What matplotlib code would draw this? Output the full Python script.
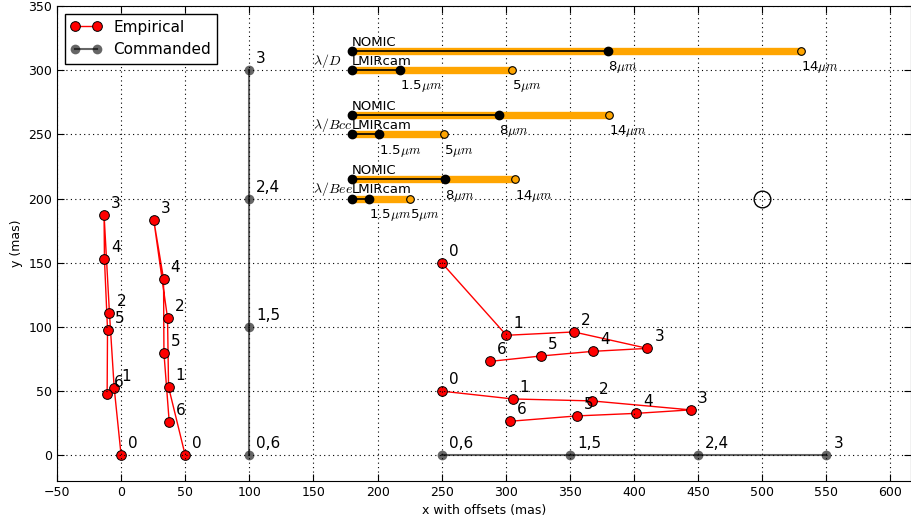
import matplotlib
matplotlib.use("Agg")
import matplotlib.pyplot as plt

plt.rc('font', size=10)
plt.rc('mathtext', fontset='cm')
plt.rc('xtick', labelsize=9)
plt.rc('ytick', labelsize=9)

# empirical scan positions (mas), one trace per offset
emp_a_x = [0, -5.4, -9.1, -13.3, -13.0, -10.6, -10.9]
emp_a_y = [0, 52.5, 110.9, 187.5, 152.9, 97.9, 48.0]
emp_b_x = [50, 37.0, 36.2, 25.5, 33.1, 33.4, 37.5]
emp_b_y = [0, 53.2, 107.0, 183.0, 137.4, 79.7, 26.2]
emp_c_x = [250, 300.5, 353.1, 410.5, 368.0, 327.7, 288.0]
emp_c_y = [150, 93.5, 96.1, 83.3, 81.0, 77.4, 73.2]
emp_d_x = [250, 305.5, 367.0, 444.1, 401.9, 355.5, 303.1]
emp_d_y = [50, 43.9, 42.4, 35.4, 32.7, 30.7, 26.5]
emp_labels = ['0', '1', '2', '3', '4', '5', '6']

# commanded positions
cmd_v_x = [100, 100, 100, 100]
cmd_v_y = [0, 100, 200, 300]
cmd_h_x = [250, 350, 450, 550]
cmd_h_y = [0, 0, 0, 0]
cmd_labels = ['0,6', '1,5', '2,4', '3']

# resolution scale bars (mas): lambda/D, lambda/Bcc, lambda/Bee
res_names = [r'$\lambda/D$', r'$\lambda/Bcc$', r'$\lambda/Bee$']
nomic_y = [315, 265, 215]
lmir_y = [300, 250, 200]
bar_x0 = 180
lmir_short = [37.5, 21.5, 13.7]    # 1.5 um
lmir_long = [125.0, 71.6, 45.5]    # 5 um
nomic_short = [200.0, 114.6, 72.9]  # 8 um
nomic_long = [350.0, 200.5, 127.5]  # 14 um

fig = plt.figure(figsize=(9.12, 5.23), dpi=100)
ax = fig.add_axes([57/912, 42/523, 854/912, 475/523])

def point_labels(xs, ys, labels):
    for x, y, s in zip(xs, ys, labels):
        ax.annotate(s, (x, y), xytext=(5, 5), textcoords='offset points',
                    fontsize=11, va='baseline')

emp_style = dict(color='r', marker='o', markersize=7, markeredgecolor='k',
                 markeredgewidth=0.7, linewidth=1)
cmd_style = dict(color='k', alpha=0.6, marker='o', markersize=7,
                 markeredgewidth=0, linewidth=1.5)

ax.plot(emp_a_x, emp_a_y, label='Empirical', **emp_style)
ax.plot(emp_b_x, emp_b_y, **emp_style)
ax.plot(emp_c_x, emp_c_y, **emp_style)
ax.plot(emp_d_x, emp_d_y, **emp_style)
for xs, ys in [(emp_a_x, emp_a_y), (emp_b_x, emp_b_y),
               (emp_c_x, emp_c_y), (emp_d_x, emp_d_y)]:
    point_labels(xs, ys, emp_labels)

ax.plot(cmd_v_x, cmd_v_y, label='Commanded', **cmd_style)
ax.plot(cmd_h_x, cmd_h_y, **cmd_style)
point_labels(cmd_v_x, cmd_v_y, cmd_labels)
point_labels(cmd_h_x, cmd_h_y, cmd_labels)

# scale bars
def scale_bar(y, short, long_, name, lo, hi):
    ax.plot([bar_x0, bar_x0 + long_], [y, y], color='orange',
            linewidth=5.3, solid_capstyle='butt', zorder=3)
    ax.plot([bar_x0, bar_x0 + short], [y, y], color='k', linewidth=1.2,
            marker='o', markersize=6, zorder=4)
    ax.plot([bar_x0 + long_], [y], 'o', color='orange', markersize=5.5,
            markeredgecolor='k', markeredgewidth=0.8, zorder=4)
    ax.text(bar_x0, y + 4, name, fontsize=9.5, va='baseline')
    ax.text(bar_x0 + short, y - 15, lo, fontsize=9.5, va='baseline')
    ax.text(bar_x0 + long_, y - 15, hi, fontsize=9.5, va='baseline')

for i in range(3):
    scale_bar(nomic_y[i], nomic_short[i], nomic_long[i], 'NOMIC',
              r'8$\mu m$', r'14$\mu m$')
    scale_bar(lmir_y[i], lmir_short[i], lmir_long[i], 'LMIRcam',
              r'1.5$\mu m$', r'5$\mu m$')
    ax.text(150, lmir_y[i] + 4, res_names[i], fontsize=10, va='baseline')

ax.plot([500], [200], 'o', markersize=12, markerfacecolor='none',
        markeredgecolor='k', markeredgewidth=1)

ax.set_xlim(-50, 616)
ax.set_ylim(-20, 350)
ax.set_xticks(range(-50, 601, 50))
ax.set_yticks(range(0, 351, 50))
ax.tick_params(direction='in', top=True, right=True, length=5)
ax.grid(True, color='k', linestyle=(0, (1, 3)), linewidth=0.8)
ax.set_axisbelow(False)
ax.set_xlabel('x with offsets (mas)', fontsize=9)
ax.set_ylabel('y (mas)', fontsize=9)

leg = ax.legend(loc='upper left', numpoints=2, handlelength=2.0,
                fontsize=11, fancybox=False, framealpha=1,
                edgecolor='k', borderaxespad=0.5)
leg.get_frame().set_linewidth(1)

fig.savefig('out.png', dpi=100)
